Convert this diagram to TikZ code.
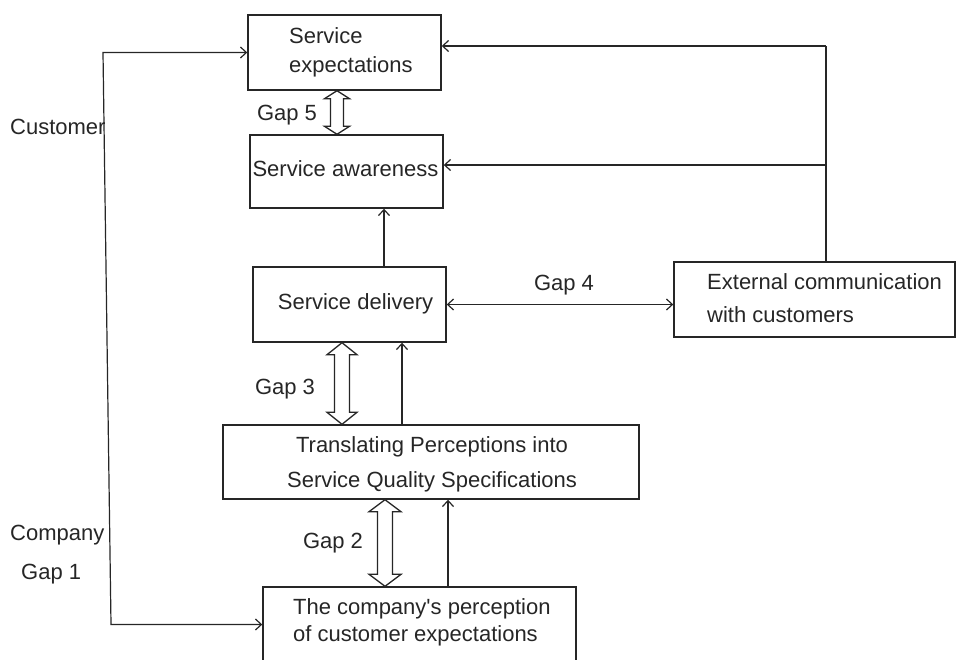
\documentclass[tikz,border=0pt]{standalone}
\usepackage{fontspec}
\setmainfont{Liberation Sans}
\usetikzlibrary{arrows.meta,calc}

\tikzset{
  box/.style={draw=black!85, line width=1.4pt, rectangle, inner sep=0pt},
  txt/.style={inner sep=0pt, text=black!85, font=\fontsize{22}{26}\selectfont},
  conn/.style={draw=black!85, line width=1.2pt},
  hollow/.style={draw=black!85, line width=1.3pt, fill=white, line join=miter},
  >={Straight Barb[length=6pt,width=11pt]}
}

% hollow double-headed arrow between two stacked boxes
% #1 x position (pt), #2 upper node, #3 lower node,
% #4 half shaft width, #5 half head width, #6 head length
\newcommand{\hollowarrow}[6]{%
  \draw[hollow] let \p1=(#2.south), \p2=(#3.north) in
    ({#1pt},\y1) -- ({#1pt+#5pt},{\y1-#6pt}) -- ({#1pt+#4pt},{\y1-#6pt})
    -- ({#1pt+#4pt},{\y2+#6pt}) -- ({#1pt+#5pt},{\y2+#6pt}) -- ({#1pt},\y2)
    -- ({#1pt-#5pt},{\y2+#6pt}) -- ({#1pt-#4pt},{\y2+#6pt})
    -- ({#1pt-#4pt},{\y1-#6pt}) -- ({#1pt-#5pt},{\y1-#6pt}) -- cycle;}

\begin{document}
\begin{tikzpicture}[x=1pt,y=-1pt]
\useasboundingbox (0,0) rectangle (957,659);
\clip (0,0) rectangle (957,659);

% boxes
\node[box, minimum width=193pt, minimum height=75pt] (expect) at (344.5,52.5) {};
\node[box, minimum width=193pt, minimum height=73pt] (aware)  at (346.5,171.5) {};
\node[box, minimum width=193pt, minimum height=75pt] (deliv)  at (349.5,304.5) {};
\node[box, minimum width=281pt, minimum height=75pt] (ext)    at (814.5,299.5) {};
\node[box, minimum width=416pt, minimum height=74pt] (trans)  at (431,462) {};
\node[box, minimum width=313pt, minimum height=75pt] (perc)   at (419.5,624.5) {};

% box texts
\node[txt, anchor=base west] (expectA) at (289,43) {Service};
\node[txt, anchor=base west] (expectB) at (289,72) {expectations};
\node[txt, anchor=base] (awareA) at (345.5,176) {Service awareness};
\node[txt, anchor=base] (delivA) at (355.5,309) {Service delivery};
\node[txt, anchor=base west] (extA) at (707,289) {External communication};
\node[txt, anchor=base west] (extB) at (707,322) {with customers};
\node[txt, anchor=base] (transA) at (432,452) {Translating Perceptions into};
\node[txt, anchor=base] (transB) at (432,487) {Service Quality Specifications};
\node[txt, anchor=base west] (percA) at (293,614) {The company\textquotesingle s perception};
\node[txt, anchor=base west] (percB) at (293,641) {of customer expectations};

% side and gap labels
\node[txt, anchor=base west] (cust) at (10,134) {Customer};
\node[txt, anchor=base west] (comp) at (10,540) {Company};
\node[txt, anchor=base west] (gapone) at (21,579) {Gap 1};
\node[txt, anchor=base] (gapfive) at (287,120) {Gap 5};
\node[txt, anchor=base] (gapthree) at (285,394) {Gap 3};
\node[txt, anchor=base] (gaptwo) at (333,548) {Gap 2};
\node[txt, anchor=base] (gapfour) at (564,290) {Gap 4};

% left loop: customer side to company side
\coordinate (ltop) at (103,52.5);
\coordinate (lbot) at (111,624.5);
\draw[conn,<->] (expect.west) -- (ltop) -- (lbot) -- (perc.west);

% external communication feeding expectations and awareness
\coordinate (rtop) at (826,46);
\coordinate (rmid) at (826,165);
\draw[conn] (rtop |- ext.north) -- (rtop);
\draw[conn,->] (rtop) -- (rtop -| expect.east);
\draw[conn,->] (rmid) -- (rmid -| aware.east);

% gap 4
\draw[conn,<->] (deliv.east) -- (deliv.east -| ext.west);

% upward flows
\draw[conn,->] ([xshift=34.5pt]deliv.north) -- ([xshift=34.5pt]deliv.north |- aware.south);
\draw[conn,->] ([xshift=52.5pt]deliv.south |- trans.north) -- ([xshift=52.5pt]deliv.south);
\draw[conn,->] ([xshift=28.5pt]perc.north) -- ([xshift=28.5pt]perc.north |- trans.south);

% hollow gap arrows
\hollowarrow{337}{expect}{aware}{6.5}{12.5}{8}
\hollowarrow{342}{deliv}{trans}{7.5}{15}{12}
\hollowarrow{385}{trans}{perc}{7.5}{16}{12}
\end{tikzpicture}
\end{document}
